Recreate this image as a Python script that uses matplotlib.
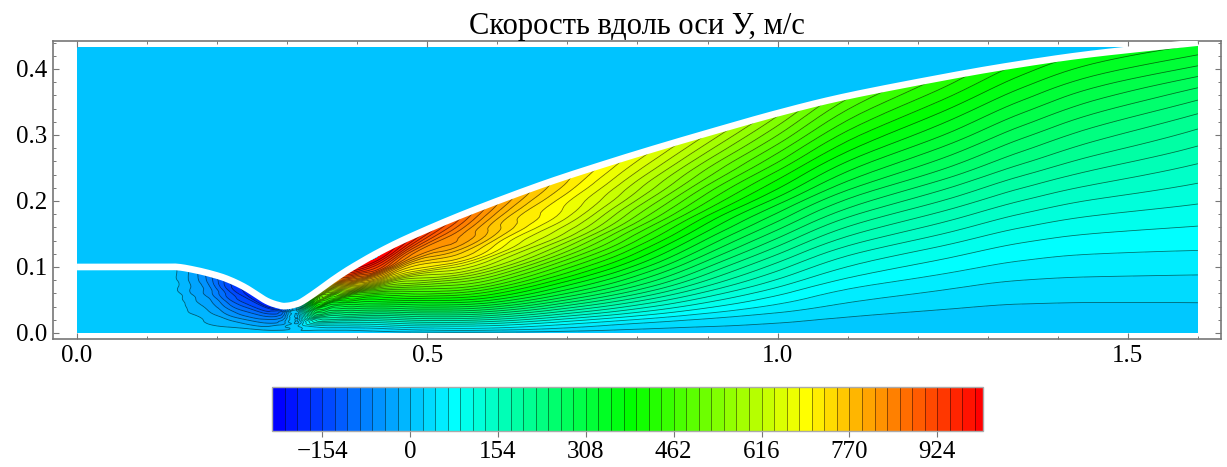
import numpy as np
import matplotlib
matplotlib.use("Agg")
import matplotlib.pyplot as plt
import matplotlib.tri as mtri
from matplotlib.colors import LinearSegmentedColormap, BoundaryNorm
from matplotlib.patches import Rectangle
from matplotlib.ticker import MultipleLocator, FixedLocator

plt.rcParams['font.family'] = ['Liberation Serif', 'DejaVu Sans']

title = 'Скорость вдоль оси У, м/с'
bar_ticks = [-154, 0, 154, 308, 462, 616, 770, 924]
x_ticks = [0.0, 0.5, 1.0, 1.5]
y_ticks = [0.0, 0.1, 0.2, 0.3, 0.4]

# x stations and the nozzle wall
x_st = [0, .12, .143, .166, .19, .214, .24, .27, .29, .30, .31, .32, .34, .36, .38, .40, .43, .47,
        .533, .6, .675, .75, .82, .9, 1.0, 1.1, 1.25, 1.35, 1.45, 1.6]
wall_y = [.1, .1, .1, .096, .09, .082, .069, .049, .0415, .041, .043, .047, .061, .0765, .091, .104, .122, .143,
          .172, .2, .229, .255, .278, .303, .333, .359, .39, .408, .423, .44]

# velocity estimated from colours and contour lines: rows = x stations, columns = y/wall
eta_st = [0, .04, .1, .2, .3, .4, .5, .6, .7, .8, .9, 1]
vy_table = [
    [11, 11, 11, 11, 11, 11, 11, 11, 11, 11, 11, 11],
    [11, 11, 11, 11, 11, 11, 11, 11, 11, 11, 11, 11],
    [11, 11, 11, 11, 11, 10, 8, 5, 2, 0, -1, -3],
    [11, 10, 9, 6, -1, -9, -18, -23, -27, -30, -33, -36],
    [11, 9, 5, -3, -14, -26, -39, -50, -60, -70, -79, -88],
    [11, 7, 2, -13, -33, -54, -76, -96, -114, -130, -142, -152],
    [10, 6, 0, -21, -46, -70, -94, -118, -140, -160, -180, -198],
    [9, 4, -3, -22, -42, -62, -85, -110, -135, -165, -195, -225],
    [8, 4, 0, -10, -24, -40, -58, -78, -100, -125, -150, -175],
    [8, 6, 2, 0, -4, -8, -14, -22, -33, -50, -70, -90],
    [12, 12, 10, 8, 7, 6, 5, 4, 3, 2, 1, 0],
    [14, 16, 22, 26, 30, 36, 46, 60, 80, 110, 155, 230],
    [14, 16, 30, 70, 125, 195, 255, 310, 365, 425, 505, 600],
    [14, 18, 42, 105, 175, 240, 300, 370, 450, 550, 680, 800],
    [14, 20, 52, 130, 215, 285, 350, 440, 570, 720, 860, 950],
    [14, 22, 62, 150, 240, 315, 390, 500, 690, 840, 950, 1000],
    [14, 30, 80, 175, 275, 360, 445, 600, 770, 910, 985, 1010],
    [14, 45, 110, 215, 320, 410, 510, 630, 740, 840, 940, 975],
    [14, 70, 150, 290, 420, 520, 620, 700, 770, 820, 860, 900],
    [14, 72, 155, 320, 400, 505, 605, 680, 715, 750, 780, 810],
    [12, 55, 130, 275, 365, 440, 530, 620, 670, 700, 725, 745],
    [12, 40, 105, 235, 330, 395, 470, 545, 595, 635, 670, 695],
    [12, 30, 90, 195, 295, 360, 410, 480, 535, 590, 630, 665],
    [12, 25, 65, 150, 225, 295, 345, 405, 460, 515, 570, 625],
    [10, 21, 48, 99, 157, 215, 277, 337, 394, 452, 510, 555],
    [8, 15, 33, 67, 118, 172, 224, 287, 342, 391, 441, 490],
    [5, 10, 21, 45, 80, 126, 177, 230, 284, 329, 377, 420],
    [5, 9, 20, 43, 75, 110, 155, 206, 252, 299, 348, 392],
    [4, 8, 19, 41, 68, 98, 139, 184, 227, 270, 316, 366],
    [4, 9, 21, 44, 70, 97, 127, 160, 197, 241, 296, 355],
]

levels = np.arange(-242, 1013, 22)
cmap = LinearSegmentedColormap.from_list(
    'hue', ['#0000ff', '#00ffff', '#00ff00', '#ffff00', '#ff0000'], N=len(levels) - 1)
norm = BoundaryNorm(levels, len(levels) - 1)

W, H = 1227, 467
GRAY = '#777777'


def px_box(left, top, right, bottom):
    return [left / W, 1 - bottom / H, (right - left) / W, (bottom - top) / H]


def along(u, table):
    # C1 curve through a table at fractional index u, so stations leave no kinks
    table = np.asarray(table, dtype=float)
    slope = np.gradient(table)
    i = np.clip(np.floor(u).astype(int), 0, len(table) - 2)
    t = u - i
    return ((2 * t**3 - 3 * t**2 + 1) * table[i] + (t**3 - 2 * t**2 + t) * slope[i]
            + (-2 * t**3 + 3 * t**2) * table[i + 1] + (t**3 - t**2) * slope[i + 1])


def soften(a, rows, cols, axis):
    # one 1-2-1 pass to take the reading noise out of the estimates
    b = a.copy()
    for i in rows:
        for j in cols:
            if axis == 0:
                b[i, j] = (a[i - 1, j] + 2 * a[i, j] + a[i + 1, j]) / 4
            else:
                b[i, j] = (a[i, j - 1] + 2 * a[i, j] + a[i, j + 1]) / 4
    return b


vy = np.array(vy_table, dtype=float)
vy = soften(vy, range(14, 29), range(1, 7), 0)
vy = soften(vy, range(19, 29), range(7, 12), 0)
vy = soften(vy, range(17, 29), range(3, 11), 1)
vy = soften(vy, range(3, 8), range(3, 11), 1)

# smooth the table on its index grid, then place it inside the nozzle
ii, jj = np.meshgrid(np.arange(len(x_st)), np.arange(len(eta_st)), indexing='ij')
tri = mtri.Triangulation(ii.ravel().astype(float), jj.ravel().astype(float))
interp = mtri.CubicTriInterpolator(tri, vy.ravel(), kind='min_E')
fine_tri, fine_v = mtri.UniformTriRefiner(tri).refine_field(vy.ravel(), triinterpolator=interp, subdiv=3)
fine_x = along(fine_tri.x, x_st)
fine_y = along(fine_tri.y, eta_st) * along(fine_tri.x, wall_y)
field = mtri.Triangulation(fine_x, fine_y, fine_tri.triangles)

u_line = np.linspace(0, len(x_st) - 1, 600)
wall_line_x = along(u_line, x_st)
wall_line_y = along(u_line, wall_y)

fig = plt.figure(figsize=(W / 100, H / 100), dpi=100)
ax = fig.add_axes(px_box(53, 41, 1221, 339))

ax.add_patch(Rectangle((0, 0), 1.6, 0.433, color='#00c3ff', lw=0, zorder=1))
cf = ax.tricontourf(field, fine_v, levels=levels, cmap=cmap, norm=norm, zorder=2)
ax.tricontour(field, fine_v, levels=levels[1:-1], colors='k', linewidths=0.6, alpha=0.55,
              linestyles='solid', zorder=3)
ax.plot(wall_line_x, wall_line_y, color='white', lw=4.8, solid_capstyle='butt', zorder=4)

ax.set_xlim(-0.0343, 1.633)
ax.set_ylim(-0.0091, 0.4424)
ax.xaxis.set_major_locator(FixedLocator(x_ticks))
ax.yaxis.set_major_locator(FixedLocator(y_ticks))
ax.set_xticklabels([f'{v:.1f}' for v in x_ticks])
ax.set_yticklabels([f'{v:.1f}' for v in y_ticks])
ax.xaxis.set_minor_locator(MultipleLocator(0.1))
ax.yaxis.set_minor_locator(MultipleLocator(0.02))
ax.tick_params(which='major', direction='in', top=True, right=True, length=4, width=0.8,
               color=GRAY, labelsize=18, pad=4)
ax.tick_params(which='minor', direction='in', top=True, right=True, length=2, width=0.7, color=GRAY)
for s in ax.spines.values():
    s.set_color(GRAY)
    s.set_linewidth(1.2)
ax.set_title(title, fontsize=22, pad=3)

cax = fig.add_axes(px_box(272, 387, 983, 431))
cb = fig.colorbar(cf, cax=cax, orientation='horizontal', ticks=bar_ticks, drawedges=True)
cb.dividers.set_color('k')
cb.dividers.set_alpha(0.45)
cb.dividers.set_linewidth(0.7)
cb.outline.set_edgecolor('#aaaaaa')
cb.outline.set_linewidth(1.0)
cax.set_xlim(-242, 1004)
cax.minorticks_off()
cax.tick_params(axis='x', length=4, width=0.8, color=GRAY, labelsize=18, pad=3)

fig.savefig('out.png', dpi=100)
